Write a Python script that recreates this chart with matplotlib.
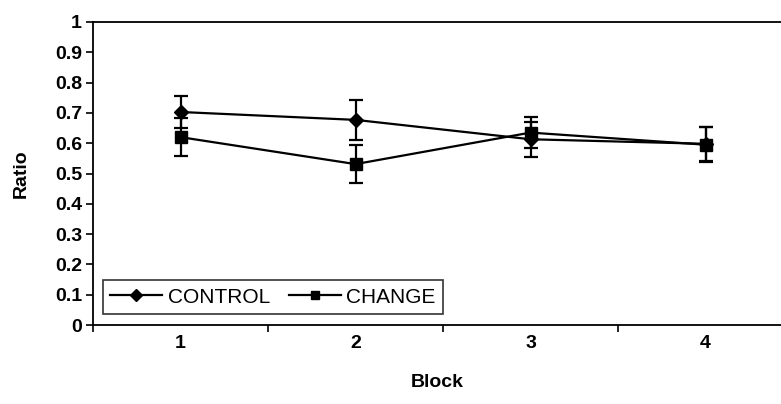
"""Ratio by block for CONTROL and CHANGE groups, with error bars."""
import matplotlib.pyplot as plt
from matplotlib.lines import Line2D
import numpy as np

plt.rcParams['font.family'] = ['Liberation Sans', 'DejaVu Sans']

blocks = [1, 2, 3, 4]
control = [0.703, 0.677, 0.613, 0.598]
control_err = [0.052, 0.066, 0.057, 0.057]
change = [0.620, 0.531, 0.635, 0.595]
change_err = [0.062, 0.063, 0.050, 0.057]

fig = plt.figure(figsize=(7.81, 4.04), dpi=100)
ax = fig.add_axes([93 / 781, 1 - 325 / 404, 1 - 93 / 781, 303 / 404])

ax.errorbar(blocks, control, yerr=control_err, color='black', marker='D',
            markersize=7, linewidth=1.6, elinewidth=1.6, capsize=5,
            capthick=1.6)
ax.errorbar(blocks, change, yerr=change_err, color='black', marker='s',
            markersize=8, linewidth=1.6, elinewidth=1.6, capsize=5,
            capthick=1.6)

ax.set_xlim(0.5, 0.5 + 688 / 175)
ax.set_ylim(0, 1)
ax.set_yticks(np.arange(0, 1.01, 0.1))
ax.set_yticklabels(['0', '0.1', '0.2', '0.3', '0.4', '0.5', '0.6', '0.7',
                    '0.8', '0.9', '1'], fontsize=14, fontweight='bold')
ax.set_xticks(blocks)
ax.set_xticklabels([str(b) for b in blocks], fontsize=14, fontweight='bold')
ax.set_xticks([0.5, 1.5, 2.5, 3.5], minor=True)
ax.tick_params(axis='x', which='major', length=0, pad=7)
ax.tick_params(axis='x', which='minor', length=5, width=1.2, direction='out')
ax.tick_params(axis='y', length=5, width=1.2, direction='out', pad=3)

ax.set_xlabel('Block', fontsize=14, fontweight='bold', labelpad=16)
ax.set_ylabel('Ratio', fontsize=14, fontweight='bold', labelpad=18)

for s in ax.spines.values():
    s.set_linewidth(1.3)
ax.spines['right'].set_visible(False)

handles = [Line2D([], [], color='black', marker='D', markersize=6,
                  linewidth=1.6),
           Line2D([], [], color='black', marker='s', markersize=6,
                  linewidth=1.6)]
leg = ax.legend(handles, ['CONTROL', 'CHANGE'], loc='lower left',
                bbox_to_anchor=(103 / 781, 1 - 314 / 404),
                bbox_transform=fig.transFigure, ncol=2, frameon=True,
                fancybox=False, edgecolor='black', fontsize=15,
                handlelength=2.5, handletextpad=0.25, columnspacing=0.9,
                borderpad=0.35, borderaxespad=0)
leg.get_frame().set_linewidth(1.2)

fig.savefig('out.png', dpi=100)
plt.close()
